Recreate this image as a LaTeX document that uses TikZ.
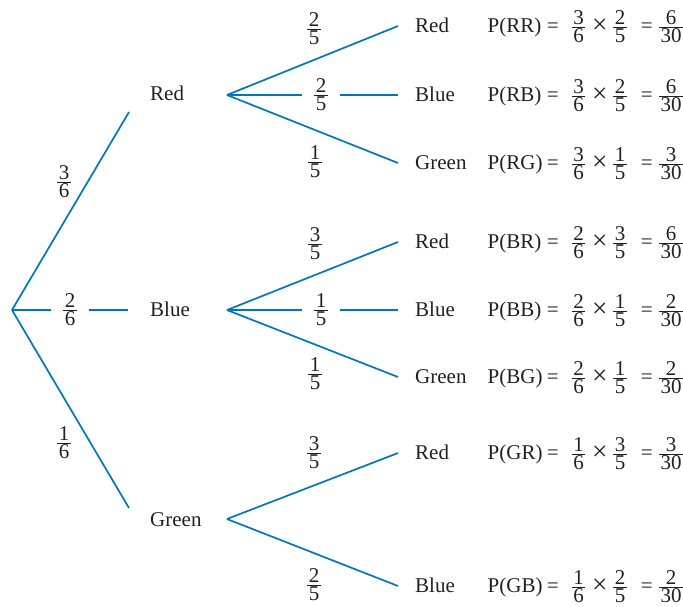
\documentclass[tikz,border=0pt]{standalone}
\usepackage{fontspec}
\setmainfont{Liberation Serif}
\usepackage{amsmath}
\definecolor{treeblue}{RGB}{0,118,192}
\definecolor{inkc}{RGB}{35,31,32}
\newcommand{\fr}[2]{\ensuremath{\textstyle\frac{\hbox{\kern1.5pt#1\kern1.5pt}}{\hbox{\kern1.5pt#2\kern1.5pt}}}}
\newcommand{\eqn}[7]{\makebox[55.5pt][l]{P(#1)}\hspace{3pt}\makebox[13pt]{=}\hspace{11.5pt}\makebox[16pt]{\fr{#2}{#3}}\hspace{6.5pt}\makebox[13pt]{\raisebox{-1pt}{\scalebox{1.3}{×}}}\hspace{6pt}\makebox[16pt]{\fr{#4}{#5}}\hspace{12pt}\makebox[13pt]{=}\hspace{6pt}\makebox[24pt]{\fr{#6}{#7}}}
\tikzset{
  tl/.style={draw=treeblue, line width=1.7pt},
  lvlone/.style={anchor=west, inner xsep=22pt, inner ysep=0pt, text height=13.9pt, text depth=0pt},
  lvltwo/.style={anchor=west, inner xsep=17pt, inner ysep=0pt, text height=13.9pt, text depth=0pt},
  fracl/.style={inner xsep=0pt, inner ysep=0pt, text height=22.5pt, text depth=12pt},
  gapl/.style={fracl, inner xsep=11pt},
  eqnode/.style={anchor=base west, inner sep=0pt}
}
\begin{document}
\begin{tikzpicture}[x=1pt,y=-1pt, font=\fontsize{21}{25}\selectfont, text=inkc]
\useasboundingbox (0,0) rectangle (683,606);
% level 1
\coordinate (root) at (12,310);
\node[lvlone] (R1) at (128,94) {Red};
\node[lvlone] (B1) at (128,310) {Blue};
\node[lvlone] (G1) at (128,519.5) {Green};
\coordinate (eR1) at (129,112);
\coordinate (eG1) at (129,508);
\coordinate (bR) at (227,95);
\coordinate (bB) at (227,310);
\coordinate (bG) at (227,519);
\node[fracl] (f36) at (64,182) {\fr{3}{6}};
\node[gapl]  (f26) at (70,310) {\fr{2}{6}};
\node[fracl] (f16) at (64,443) {\fr{1}{6}};
% level 2, red group
\node[lvltwo] (RR) at (398,26) {Red};
\node[lvltwo] (RB) at (398,95) {Blue};
\node[lvltwo] (RG) at (398,163) {Green};
\node[fracl] (fRR) at (314,29) {\fr{2}{5}};
\node[gapl]  (fRB) at (321,95) {\fr{2}{5}};
\node[fracl] (fRG) at (315,162) {\fr{1}{5}};
% level 2, blue group
\node[lvltwo] (BR) at (398,242) {Red};
\node[lvltwo] (BB) at (398,310) {Blue};
\node[lvltwo] (BG) at (398,377) {Green};
\node[fracl] (fBR) at (315,244) {\fr{3}{5}};
\node[gapl]  (fBB) at (321,310) {\fr{1}{5}};
\node[fracl] (fBG) at (315,374) {\fr{1}{5}};
% level 2, green group
\node[lvltwo] (GR) at (398,453) {Red};
\node[lvltwo] (GB) at (398,586) {Blue};
\node[fracl] (fGR) at (314,453) {\fr{3}{5}};
\node[fracl] (fGB) at (314,585) {\fr{2}{5}};
% equations
\node[eqnode] (pRR) at (487.5,32.5) {\eqn{RR}{3}{6}{2}{5}{6}{30}};
\node[eqnode] (pRB) at (487.5,101.5) {\eqn{RB}{3}{6}{2}{5}{6}{30}};
\node[eqnode] (pRG) at (487.5,169.5) {\eqn{RG}{3}{6}{1}{5}{3}{30}};
\node[eqnode] (pBR) at (487.5,248.5) {\eqn{BR}{2}{6}{3}{5}{6}{30}};
\node[eqnode] (pBB) at (487.5,316.5) {\eqn{BB}{2}{6}{1}{5}{2}{30}};
\node[eqnode] (pBG) at (487.5,383.5) {\eqn{BG}{2}{6}{1}{5}{2}{30}};
\node[eqnode] (pGR) at (487.5,459.5) {\eqn{GR}{1}{6}{3}{5}{3}{30}};
\node[eqnode] (pGB) at (487.5,592.5) {\eqn{GB}{1}{6}{2}{5}{2}{30}};
% connectors level 1
\draw[tl] (root) -- (eR1);
\draw[tl] (root) -- (f26);
\draw[tl] (f26) -- (B1.west);
\draw[tl] (root) -- (eG1);
% connectors level 2
\draw[tl] (bR) -- (RR.west);
\draw[tl] (bR) -- (fRB);
\draw[tl] (fRB) -- (RB.west);
\draw[tl] (bR) -- (RG.west);
\draw[tl] (bB) -- (BR.west);
\draw[tl] (bB) -- (fBB);
\draw[tl] (fBB) -- (BB.west);
\draw[tl] (bB) -- (BG.west);
\draw[tl] (bG) -- (GR.west);
\draw[tl] (bG) -- (GB.west);
\end{tikzpicture}
\end{document}
